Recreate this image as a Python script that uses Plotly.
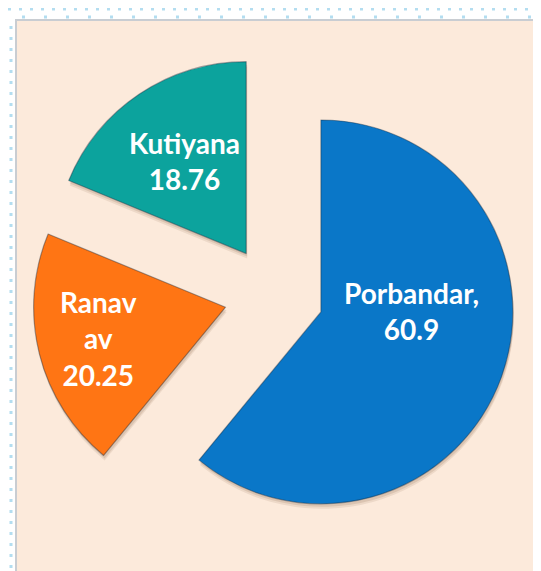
import math
import plotly.graph_objects as go

labels = ["Porbandar", "Ranavav", "Kutiyana"]
values = [60.9, 20.25, 18.76]
label_text = ["Porbandar,<br>60.9", "Ranav<br>av<br>20.25", "Kutiyana<br>18.76"]
colors = ["#0A77C8", "#FF7514", "#0CA39D"]
pulls = [0.26, 0.26, 0.26]

# label placement (fraction of radius from slice apex, angular shift in degrees)
label_frac = [0.46, 0.68, 0.58]
label_shift = [-13.0, 0.0, 0.0]

W, H = 541, 571
dx, dy = -7 / W, 9 / H
dom_x = [0.057 + dx, 0.952 + dx]
dom_y = [0.058 + dy, 0.905 + dy]

fig = go.Figure()

# soft drop shadow
for off, alpha in [(5, 0.10), (3, 0.14)]:
    fig.add_trace(go.Pie(
        labels=labels, values=values, sort=False, direction="clockwise", rotation=0,
        pull=pulls, marker=dict(colors=[f"rgba(110,70,40,{alpha})"] * 3, line=dict(width=0)),
        textinfo="none", hoverinfo="skip", showlegend=False,
        domain=dict(x=[dom_x[0] + 1 / W, dom_x[1] + 1 / W],
                    y=[dom_y[0] - off / H, dom_y[1] - off / H]),
    ))

fig.add_trace(go.Pie(
    labels=labels, values=values, sort=False, direction="clockwise", rotation=0,
    pull=pulls,
    marker=dict(colors=colors, line=dict(color="rgba(20,40,60,0.40)", width=1.2)),
    textinfo="none", showlegend=False,
    domain=dict(x=dom_x, y=dom_y),
))

# labels placed from the pie geometry (angles derived from the values)
wpx = (dom_x[1] - dom_x[0]) * W
hpx = (dom_y[1] - dom_y[0]) * H
r = min(wpx, hpx) / 2 / (1 + max(pulls))
cx = (dom_x[0] + dom_x[1]) / 2 * W
cy = (dom_y[0] + dom_y[1]) / 2 * H
total = sum(values)
cum = 0.0
annotations = []
for i, v in enumerate(values):
    mid = (cum + v / 2) / total * 360.0
    cum += v
    ang = math.radians(mid + label_shift[i])
    d = (pulls[i] + label_frac[i]) * r
    px = cx + d * math.sin(ang)
    py = cy + d * math.cos(ang)
    annotations.append(dict(
        x=px / W, y=py / H, xref="paper", yref="paper", text=label_text[i],
        showarrow=False, xanchor="center", yanchor="middle",
        font=dict(family="Lato, 'Open Sans', sans-serif", size=28, color="white", weight="bold"),
    ))

dot = "3px,8px"
shapes = [
    dict(type="rect", xref="paper", yref="paper", x0=8 / W, x1=1.01, y0=-0.01, y1=1 - 12 / H,
         fillcolor="#FCEADB", line=dict(color="#C9CDD2", width=2), layer="below"),
    dict(type="line", xref="paper", yref="paper", x0=0, x1=1, y0=1 - 1 / H, y1=1 - 1 / H,
         line=dict(color="#B3DDF0", width=3, dash=dot), layer="below"),
    dict(type="line", xref="paper", yref="paper", x0=14 / W, x1=1, y0=1 - 9 / H, y1=1 - 9 / H,
         line=dict(color="#B3DDF0", width=3, dash="3px,19px"), layer="below"),
    dict(type="line", xref="paper", yref="paper", x0=3 / W, x1=3 / W, y0=0, y1=1 - 14 / H,
         line=dict(color="#B3DDF0", width=3, dash=dot), layer="below"),
]

fig.update_layout(
    width=W, height=H,
    margin=dict(l=0, r=0, t=0, b=0),
    paper_bgcolor="white",
    plot_bgcolor="white",
    shapes=shapes,
    annotations=annotations,
)

fig.write_html("out.html")
